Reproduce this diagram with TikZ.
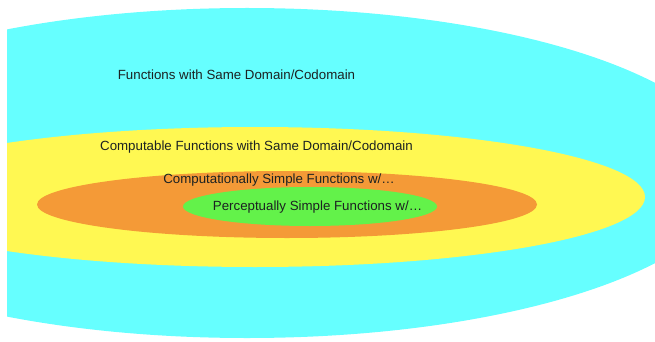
\documentclass[tikz,border=0pt]{standalone}
\usepackage{fontspec}
\setmainfont{Liberation Sans}
\definecolor{setcyan}{HTML}{66FFFF}
\definecolor{setyellow}{HTML}{FFF852}
\definecolor{setorange}{HTML}{F49A37}
\definecolor{setgreen}{HTML}{63F24A}
\definecolor{labelink}{HTML}{1C2222}
\tikzset{
  setlabel/.style={text=labelink, inner sep=0pt, font=\fontsize{13.3}{16}\selectfont}
}
\begin{document}
\begin{tikzpicture}[x=1pt,y=-1pt]
  \useasboundingbox (0,0) rectangle (655,342);
  \begin{scope}
    \clip (7,0) rectangle (655,342);
    % nested sets, outermost first
    \fill[setcyan]   (247,173)   ellipse [x radius=487, y radius=165];
    \fill[setyellow] (255,197)   ellipse [x radius=390, y radius=70];
    \fill[setorange] (287,204.5) ellipse [x radius=250, y radius=33.5];
    \fill[setgreen]  (310,206.5) ellipse [x radius=127, y radius=19.5];
  \end{scope}
  \node[setlabel] (all)   at (236.5,75)  {Functions with Same Domain/Codomain};
  \node[setlabel] (comp)  at (256.5,147) {Computable Functions with Same Domain/Codomain};
  \node[setlabel] (csimp) at (279,180)   {Computationally Simple Functions w/…};
  \node[setlabel] (psimp) at (317.5,207) {Perceptually Simple Functions w/…};
\end{tikzpicture}
\end{document}
